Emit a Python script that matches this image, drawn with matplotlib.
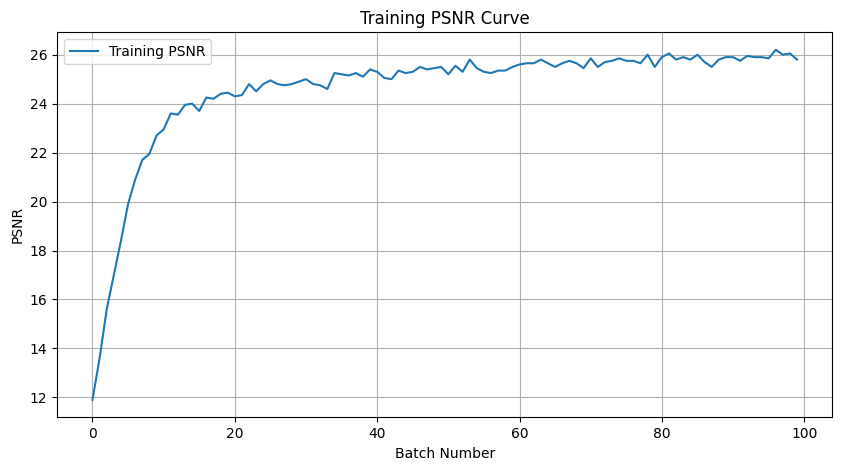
import matplotlib
matplotlib.use("Agg")
import matplotlib.pyplot as plt

batches = list(range(100))
psnr = [
    11.9, 13.6, 15.6, 17.0, 18.4, 19.9, 20.9, 21.7, 21.95, 22.7,
    22.95, 23.6, 23.55, 23.95, 24.0, 23.7, 24.25, 24.2, 24.4, 24.45,
    24.3, 24.35, 24.8, 24.5, 24.8, 24.95, 24.8, 24.75, 24.8, 24.9,
    25.0, 24.8, 24.75, 24.6, 25.25, 25.2, 25.15, 25.25, 25.1, 25.4,
    25.3, 25.05, 25.0, 25.35, 25.25, 25.3, 25.5, 25.4, 25.45, 25.5,
    25.2, 25.55, 25.3, 25.8, 25.45, 25.3, 25.25, 25.35, 25.35, 25.5,
    25.6, 25.65, 25.65, 25.8, 25.65, 25.5, 25.65, 25.75, 25.65, 25.45,
    25.85, 25.5, 25.7, 25.75, 25.85, 25.75, 25.75, 25.65, 26.0, 25.5,
    25.9, 26.05, 25.8, 25.9, 25.8, 26.0, 25.7, 25.5, 25.8, 25.9,
    25.9, 25.75, 25.95, 25.9, 25.9, 25.85, 26.2, 26.0, 26.05, 25.8,
]

fig = plt.figure(figsize=(8.42, 4.70), dpi=100)
fig.subplots_adjust(left=0.068, right=0.9885, top=0.9313, bottom=0.112)
ax = fig.add_subplot(111)
ax.plot(batches, psnr, label="Training PSNR")
ax.set_title("Training PSNR Curve")
ax.set_xlabel("Batch Number")
ax.set_ylabel("PSNR")
ax.legend(loc="upper left")
ax.grid(True)

fig.savefig("out.png", dpi=100)
plt.close(fig)
